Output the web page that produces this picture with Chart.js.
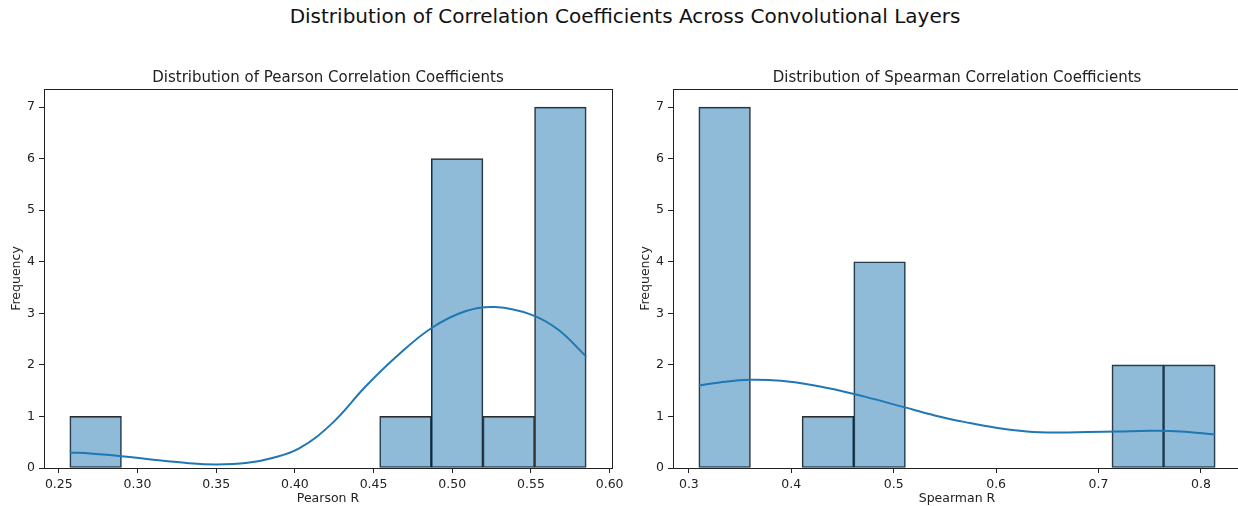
<!DOCTYPE html>
<html lang="en">
<head>
  <meta charset="UTF-8">
  <title>Distribution of Correlation Coefficients Across Convolutional Layers</title>
  <script src="https://cdn.jsdelivr.net/npm/chart.js"></script>
  <style>
    html, body { margin: 0; padding: 0; background: #fff; }
    #figure { position: relative; width: 1238px; height: 506px; overflow: hidden; }
    #suptitle {
      position: absolute; left: 0; top: 4px; width: 1238px; padding-left: 12px; box-sizing: border-box;
      text-align: center; font-family: "DejaVu Sans", sans-serif; font-size: 20px; color: #111;
    }
    .panel { position: absolute; top: 61px; height: 445px; }
    .panel canvas { display: block; }
  </style>
</head>
<body>

  <div id="figure">
    <div id="suptitle">Distribution of Correlation Coefficients Across Convolutional Layers</div>
    <div class="panel" style="left:0px; width:625px"><canvas id="pearsonChart" width="625" height="445"></canvas></div>
    <div class="panel" style="left:629px; width:609px"><canvas id="spearmanChart" width="660" height="445"></canvas></div>
  </div>

  <script>
    // histogram bins (edges + counts)
    const pearsonEdges = [0.2570, 0.2898, 0.3226, 0.3554, 0.3882, 0.4210, 0.4539, 0.4867, 0.5195, 0.5523, 0.5851];
    const pearsonCounts = [1, 0, 0, 0, 0, 0, 1, 6, 1, 7];
    const spearmanEdges = [0.3097, 0.3601, 0.4105, 0.4610, 0.5114, 0.5618, 0.6122, 0.6626, 0.7131, 0.7635, 0.8139];
    const spearmanCounts = [7, 0, 1, 4, 0, 0, 0, 0, 2, 2];

    // kde curves (sampled by eye)
    const pearsonKdeX = [0.2570, 0.27, 0.29, 0.31, 0.33, 0.35, 0.37, 0.385, 0.4027, 0.4238, 0.4449, 0.466, 0.4871, 0.5083, 0.5273, 0.5505, 0.5674, 0.5851];
    const pearsonKdeY = [0.30, 0.28, 0.23, 0.16, 0.10, 0.07, 0.10, 0.19, 0.38, 0.87, 1.58, 2.20, 2.72, 3.04, 3.12, 2.97, 2.68, 2.16];
    const spearmanKdeX = [0.3097, 0.33, 0.36, 0.39, 0.42, 0.45, 0.48, 0.51, 0.54, 0.57, 0.60, 0.63, 0.66, 0.69, 0.72, 0.75, 0.78, 0.8139];
    const spearmanKdeY = [1.60, 1.66, 1.71, 1.69, 1.61, 1.49, 1.34, 1.18, 1.02, 0.89, 0.78, 0.71, 0.69, 0.70, 0.71, 0.72, 0.71, 0.65];

    // axis ticks
    const pearsonTicks = [0.25, 0.30, 0.35, 0.40, 0.45, 0.50, 0.55, 0.60];
    const spearmanTicks = [0.3, 0.4, 0.5, 0.6, 0.7, 0.8];
    const freqTicks = [0, 1, 2, 3, 4, 5, 6, 7];

    const FONT = 'DejaVu Sans';
    const INK = '#222';

    // draws the top/right spines like matplotlib
    const boxPlugin = {
      id: 'box',
      afterDraw(chart) {
        const a = chart.chartArea, c = chart.ctx;
        c.save();
        c.strokeStyle = INK;
        c.lineWidth = 1;
        c.strokeRect(Math.round(a.left) + 0.5, Math.round(a.top) + 0.5, Math.round(a.right - a.left), Math.round(a.bottom - a.top));
        c.restore();
      }
    };

    function makeHist(id, title, xLabel, edges, counts, kdeX, kdeY, ticks, decimals, padRight) {
      const bars = counts.map((n, i) => ({ x: (edges[i] + edges[i + 1]) / 2, y: n }));
      const kde = kdeX.map((x, i) => ({ x: x, y: kdeY[i] }));
      const span = edges[edges.length - 1] - edges[0];

      return new Chart(document.getElementById(id), {
        type: 'bar',
        data: {
          datasets: [
            {
              type: 'line',
              data: kde,
              borderColor: '#1f77b4',
              borderWidth: 2,
              pointRadius: 0,
              tension: 0.4,
              fill: false,
              order: 0
            },
            {
              type: 'bar',
              data: bars,
              backgroundColor: 'rgba(31, 119, 180, 0.5)',
              borderColor: 'rgba(20, 20, 20, 0.9)',
              borderWidth: 1,
              borderSkipped: false,
              barPercentage: 1,
              categoryPercentage: 1,
              order: 1
            }
          ]
        },
        options: {
          responsive: false,
          animation: false,
          devicePixelRatio: 1,
          layout: { padding: { left: 0, right: padRight, top: 0, bottom: 0 } },
          plugins: {
            legend: { display: false },
            tooltip: { enabled: false },
            title: {
              display: true,
              fullSize: false,
              text: title,
              color: INK,
              font: { family: FONT, size: 15, weight: 'normal' },
              padding: { top: 8, bottom: 2 }
            }
          },
          scales: {
            x: {
              type: 'linear',
              offset: false,
              min: edges[0] - span * 0.05,
              max: edges[edges.length - 1] + span * 0.05,
              afterBuildTicks: s => { s.ticks = ticks.map(v => ({ value: v })); },
              afterFit: s => { s.height = 38; s.paddingLeft = 0; s.paddingRight = 0; },
              grid: { offset: false, drawOnChartArea: false, drawTicks: true, tickLength: 5, color: INK },
              border: { display: true, color: INK, width: 1 },
              ticks: {
                color: INK, padding: 4, maxRotation: 0, autoSkip: false,
                font: { family: FONT, size: 12.5 },
                callback: v => Number(v).toFixed(decimals)
              },
              title: {
                display: true, text: xLabel, color: INK,
                font: { family: FONT, size: 12.5 },
                padding: { top: 0, bottom: 0 }
              }
            },
            y: {
              min: 0,
              max: 7.35,
              afterBuildTicks: s => { s.ticks = freqTicks.map(v => ({ value: v })); },
              afterFit: s => { s.width = 44; s.paddingTop = 0; s.paddingBottom = 0; },
              grid: { offset: false, drawOnChartArea: false, drawTicks: true, tickLength: 5, color: INK },
              border: { display: true, color: INK, width: 1 },
              ticks: { color: INK, padding: 4, font: { family: FONT, size: 12.5 } },
              title: {
                display: true, text: 'Frequency', color: INK,
                font: { family: FONT, size: 12.5 },
                padding: { top: 9, bottom: 0 }
              }
            }
          }
        },
        plugins: [boxPlugin]
      });
    }

    makeHist('pearsonChart', 'Distribution of Pearson Correlation Coefficients', 'Pearson R',
      pearsonEdges, pearsonCounts, pearsonKdeX, pearsonKdeY, pearsonTicks, 2, 13);
    makeHist('spearmanChart', 'Distribution of Spearman Correlation Coefficients', 'Spearman R',
      spearmanEdges, spearmanCounts, spearmanKdeX, spearmanKdeY, spearmanTicks, 1, 48);
  </script>

</body>
</html>
